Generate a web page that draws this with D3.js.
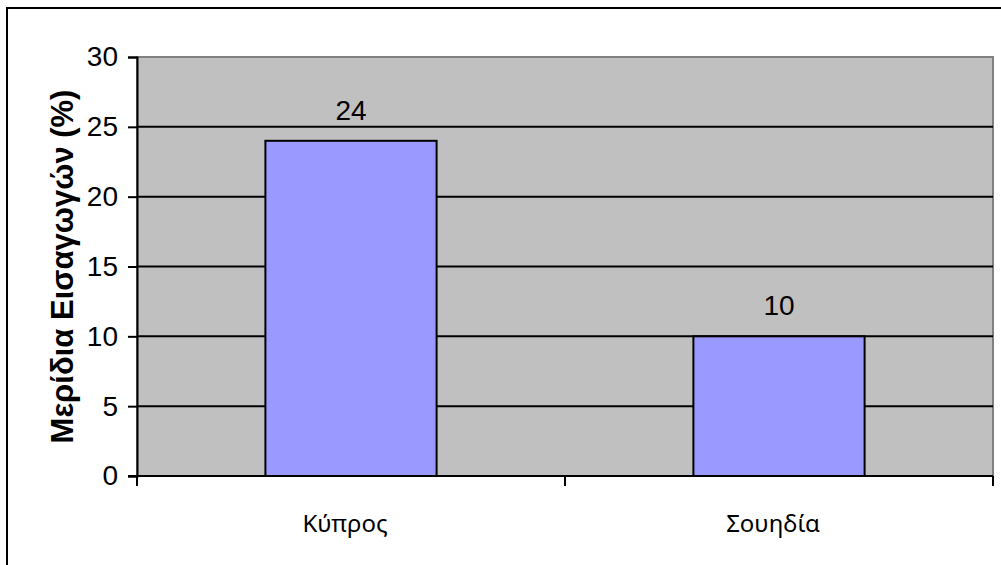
<!DOCTYPE html>
<html>
<head>
<meta charset="utf-8">
<script src="https://cdn.jsdelivr.net/npm/d3@7"></script>
<style>
  body { margin: 0; background: #fff; }
  text { font-family: "Liberation Sans", Arial, sans-serif; fill: #000; }
</style>
</head>
<body>
<div id="chart"></div>
<script>
// data
const categories = ['Κύπρος', 'Σουηδία']
const shares = [24, 10]
const yTicks = [0, 5, 10, 15, 20, 25, 30]
const yTitle = 'Μερίδια Εισαγωγών (%)'

const W = 1001, H = 565
const plot = { left: 137, top: 57, right: 993, bottom: 476 }

const svg = d3.select('#chart')
  .append('svg')
    .attr('width', W)
    .attr('height', H)

// outer frame (right/bottom fall outside the picture)
svg.append('rect')
  .attr('x', 7).attr('y', 8)
  .attr('width', W + 20).attr('height', H + 20)
  .attr('fill', '#fff')
  .attr('stroke', '#000')
  .attr('stroke-width', 2)

const x = d3.scaleBand()
  .domain(categories)
  .range([plot.left, plot.right])
  .paddingInner(0.6)
  .paddingOuter(0.3)

const xOuter = d3.scaleBand()
  .domain(categories)
  .range([plot.left, plot.right])

const y = d3.scaleLinear()
  .domain([0, 30])
  .range([plot.bottom, plot.top])

// plot background
svg.append('rect')
  .attr('x', plot.left).attr('y', plot.top)
  .attr('width', plot.right - plot.left)
  .attr('height', plot.bottom - plot.top)
  .attr('fill', '#c0c0c0')
  .attr('stroke', '#808080')
  .attr('stroke-width', 2)

// gridlines
svg.append('g')
  .selectAll('line')
  .data(yTicks.filter(d => d > 0 && d < 30))
  .enter()
  .append('line')
    .attr('x1', plot.left).attr('x2', plot.right)
    .attr('y1', d => y(d)).attr('y2', d => y(d))
    .attr('stroke', '#000')
    .attr('stroke-width', 2)

// bars
svg.append('g')
  .selectAll('rect')
  .data(shares)
  .enter()
  .append('rect')
    .attr('x', (d, i) => x(categories[i]))
    .attr('y', d => y(d))
    .attr('width', x.bandwidth())
    .attr('height', d => plot.bottom - y(d))
    .attr('fill', '#9999ff')
    .attr('stroke', '#000')
    .attr('stroke-width', 2)

// value labels
svg.append('g')
  .selectAll('text')
  .data(shares)
  .enter()
  .append('text')
    .attr('x', (d, i) => x(categories[i]) + x.bandwidth() / 2)
    .attr('y', d => y(d) - 21)
    .attr('text-anchor', 'middle')
    .style('font-size', '28px')
    .text(d => d)

// y axis
const yAxis = d3.axisLeft(y)
  .tickValues(yTicks)
  .tickSize(9)
  .tickPadding(10)

const yG = svg.append('g')
  .attr('transform', `translate(${plot.left}, 0)`)
  .call(yAxis)
yG.select('.domain').attr('stroke', '#000').attr('stroke-width', 2)
yG.selectAll('.tick line').attr('stroke', '#000').attr('stroke-width', 2)
yG.selectAll('.tick text')
  .style('font-size', '28px')
  .style('font-family', '"Liberation Sans", Arial, sans-serif')

// x axis: ticks at band edges
const xG = svg.append('g')
xG.append('line')
  .attr('x1', plot.left - 9).attr('x2', plot.right)
  .attr('y1', plot.bottom).attr('y2', plot.bottom)
  .attr('stroke', '#000').attr('stroke-width', 2)
xG.selectAll('line.tk')
  .data([...categories.map(c => xOuter(c)), plot.right])
  .enter()
  .append('line')
    .attr('class', 'tk')
    .attr('x1', d => d).attr('x2', d => d)
    .attr('y1', plot.bottom).attr('y2', plot.bottom + 10)
    .attr('stroke', '#000').attr('stroke-width', 2)
xG.selectAll('text')
  .data(categories)
  .enter()
  .append('text')
    .attr('x', d => xOuter(d) + xOuter.bandwidth() / 2 - 6)
    .attr('y', 532)
    .attr('text-anchor', 'middle')
    .style('font-family', '"Noto Sans", sans-serif')
    .style('font-size', '24px')
    .text(d => d)

// y title
svg.append('text')
  .attr('transform', `translate(73, ${(plot.top + plot.bottom) / 2}) rotate(-90)`)
  .attr('text-anchor', 'middle')
  .style('font-size', '31px')
  .style('font-weight', 'bold')
  .text(yTitle)
</script>
</body>
</html>
